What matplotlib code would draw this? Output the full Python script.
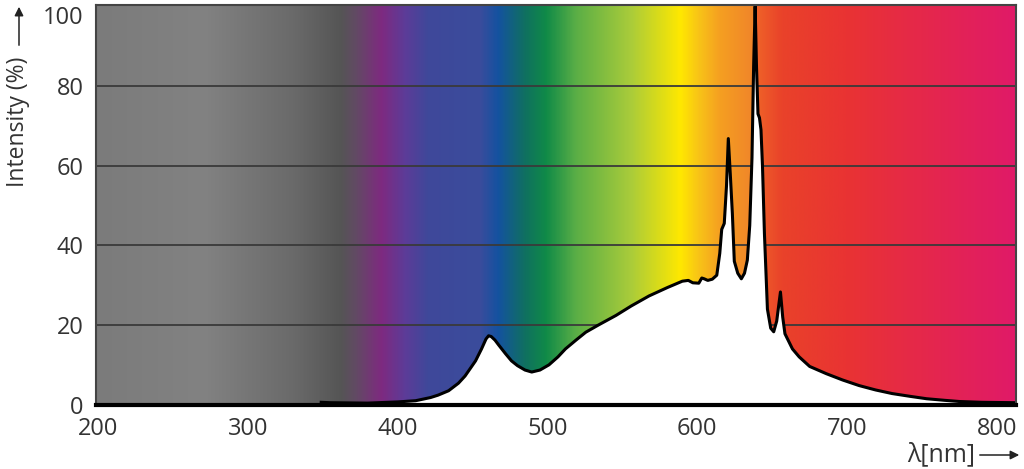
import numpy as np
import matplotlib
matplotlib.use("Agg")
import matplotlib.pyplot as plt
from matplotlib.colors import LinearSegmentedColormap, to_rgb
from matplotlib.transforms import ScaledTranslation

plt.rcParams['font.family'] = ['Open Sans', 'DejaVu Sans']

# ---- data ----
wavelength = [349, 355, 380, 400, 412, 422, 427, 434, 440.6, 445, 452, 456, 459, 460.7, 462.5,
              465, 467.4, 472, 476, 480, 485, 489.5, 495, 501, 507, 512, 519, 525.6, 534,
              545.7, 556, 567.8, 580, 590, 594, 597, 601, 603, 604.6, 607, 610, 613,
              615, 616.3, 618, 619.5, 620.7, 622, 623.4, 624.7, 627, 629.4, 631.5,
              633.4, 635, 636.5, 637.6, 638.6, 639.5, 640.5, 641.5, 642.5, 643.5,
              644.8, 646.8, 649, 651, 653, 655.5, 657, 658.5, 663.5, 668, 675, 686,
              697, 708, 719, 730, 742, 753, 765, 775, 790, 812.7]
intensity = [0.6, 0.5, 0.4, 0.7, 1.0, 1.8, 2.4, 3.5, 5.4, 7.2, 11, 14, 16.5, 17.3, 17.1,
             16.2, 15.0, 12.8, 11, 9.8, 8.7, 8.2, 8.7, 10, 12, 14, 16.2, 18.2, 20,
             22.4, 24.8, 27.3, 29.4, 31.0, 31.2, 30.6, 30.5, 31.8, 31.6, 31.2, 31.5, 32.5,
             38, 44, 45.5, 55, 66.8, 58, 48, 36, 33, 31.6, 33,
             36.3, 45, 62, 85, 100, 85, 73, 72, 69, 60,
             43, 24, 19.2, 18.3, 21, 28.3, 22, 17.8, 14, 12, 9.6, 7.8,
             6.2, 4.8, 3.7, 2.8, 2.1, 1.5, 1.1, 0.8, 0.6, 0.5]

x_ticks = [200, 300, 400, 500, 600, 700, 800]
y_ticks = [0, 20, 40, 60, 80, 100]

# background spectrum colour stops (wavelength, colour)
bg_stops = [(198.7, '#7b7b7b'), (270, '#828282'), (330, '#6a6a6a'), (362, '#555555'),
            (372, '#624a64'), (389, '#7e2a80'), (405, '#5c3c98'), (420, '#3f489a'),
            (455, '#3a4c9c'), (467, '#1452a0'), (485, '#107060'), (499, '#0f8a48'),
            (519, '#5aae46'), (556, '#aacc3a'), (589, '#ffe800'), (601, '#f8c417'),
            (615, '#f5a021'), (638.2, '#f0842a'), (639.0, '#ef6428'), (657, '#e9422a'),
            (700, '#e93333'), (812.7, '#e01a68')]

xmin, xmax = 198.7, 812.7
ymin, ymax = 0, 100.2

fig = plt.figure(figsize=(10.24, 4.69), dpi=100)
ax = fig.add_axes([96/1024, (469-404.7)/469, 920/1024, (404.7-5.5)/469])

# gradient background
pos = [(w - xmin) / (xmax - xmin) for w, _ in bg_stops]
cols = [to_rgb(c) for _, c in bg_stops]
cmap = LinearSegmentedColormap.from_list('spec', list(zip(pos, cols)), N=1024)
grad = np.linspace(0, 1, 1200).reshape(1, -1)
ax.imshow(grad, cmap=cmap, extent=[xmin, xmax, ymin, ymax], aspect='auto',
          interpolation='bilinear', zorder=0)

# grid lines (under the white fill)
for yv in y_ticks[1:-1]:
    ax.axhline(yv, color='#3a3a3a', lw=1.3, zorder=1)

ax.fill_between(wavelength, intensity, 0, color='white', zorder=2, lw=0)
ax.plot(wavelength, intensity, color='black', lw=2.2, zorder=3,
        solid_joinstyle='round')

ax.set_xlim(xmin, xmax)
ax.set_ylim(ymin, ymax)
ax.set_xticks(x_ticks)
ax.set_yticks(y_ticks)
ax.tick_params(length=0, labelsize=17, labelcolor='#333333')
ax.tick_params(axis='x', pad=9)
ax.tick_params(axis='y', pad=9)

# the top label sits a little lower in the reference
top_lbl = ax.get_yticklabels()[-1]
top_lbl.set_transform(top_lbl.get_transform() + ScaledTranslation(0, -0.09, fig.dpi_scale_trans))

for s in ['left', 'right', 'top']:
    ax.spines[s].set_color('#444444')
    ax.spines[s].set_linewidth(1.5)
ax.spines['bottom'].set_color('black')
ax.spines['bottom'].set_linewidth(3)
for s in ax.spines.values():
    s.set_zorder(4)

# axis labels with arrows
fig.text(18/1024, 1 - 122/469, 'Intensity (%)', rotation=90, ha='center', va='center',
         fontsize=16.5, color='#333333')
fig.add_artist(matplotlib.patches.FancyArrowPatch(
    (19/1024, 1 - 48/469), (19/1024, 1 - 4/469), transform=fig.transFigure,
    arrowstyle='-|>', mutation_scale=13, color='#222222', lw=1.1))
fig.text(975/1024, 1 - 455/469, 'λ[nm]', ha='right', va='center',
         fontsize=18, color='#333333')
fig.add_artist(matplotlib.patches.FancyArrowPatch(
    (977/1024, 1 - 455/469), (1022/1024, 1 - 455/469), transform=fig.transFigure,
    arrowstyle='-|>', mutation_scale=13, color='#222222', lw=1.1))

fig.savefig('out.png', dpi=100)
